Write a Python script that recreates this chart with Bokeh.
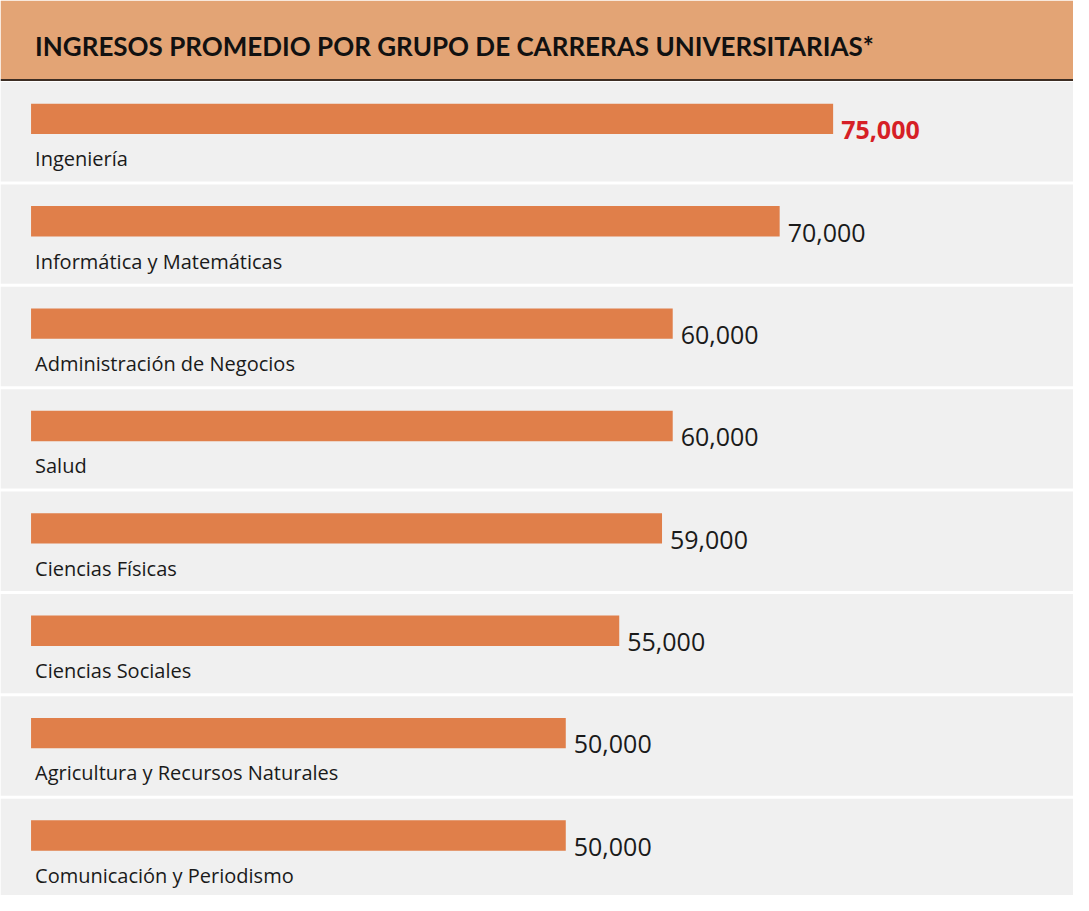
from bokeh.plotting import figure
from bokeh.models import Range1d, ColumnDataSource
from bokeh.core.properties import value
from bokeh.embed import file_html
from bokeh.resources import INLINE

# ---------------- data ----------------
title_text = "INGRESOS PROMEDIO POR GRUPO DE CARRERAS UNIVERSITARIAS*"
categories = [
    "Ingeniería",
    "Informática y Matemáticas",
    "Administración de Negocios",
    "Salud",
    "Ciencias Físicas",
    "Ciencias Sociales",
    "Agricultura y Recursos Naturales",
    "Comunicación y Periodismo",
]
incomes = [75000, 70000, 60000, 60000, 59000, 55000, 50000, 50000]
value_labels = [f"{v:,}" for v in incomes]

# ---------------- layout ----------------
W, H = 1073, 895
REF_W, REF_H = 1089, 911
PX_PER_UNIT = 10.854 / 1000.0   # reference pixels per unit of income
X0_REF = 31                     # reference pixel of zero income
x_start = -X0_REF / PX_PER_UNIT
x_end = (REF_W - X0_REF) / PX_PER_UNIT

HEADER_BOTTOM = 80
ROW0 = 82
PITCH = 104.2
GAP = 3

n = len(categories)
row_tops = [ROW0 + k * PITCH for k in range(n)]

HEADER_COLOR = "#E3A475"
BAR_COLOR = "#E07F4A"
ROW_BG = "#F0F0F0"
RED = "#D61F26"

p = figure(width=W, height=H, output_backend="svg", toolbar_location=None,
           x_range=Range1d(x_start, x_end), y_range=Range1d(REF_H, 0),
           min_border=0, min_border_left=0, min_border_right=0,
           min_border_top=0, min_border_bottom=0)
p.axis.visible = False
p.grid.visible = False
p.outline_line_color = None
p.background_fill_color = "white"
p.border_fill_color = "white"

# header band
p.quad(left=[x_start], right=[x_end], top=[0], bottom=[HEADER_BOTTOM],
       fill_color=HEADER_COLOR, line_color=None)
p.quad(left=[x_start], right=[x_end], top=[HEADER_BOTTOM], bottom=[HEADER_BOTTOM + 2],
       fill_color="#3D2E24", line_color=None)
p.text(x=[0], y=[46], text=[title_text], x_offset=4,
       text_font=value("Lato"), text_font_style="bold", text_font_size="26px",
       text_color="#111111", text_baseline="alphabetic", text_align="left")

# row backgrounds
src_rows = ColumnDataSource(dict(
    left=[x_start] * n, right=[x_end] * n,
    top=[t + 1 for t in row_tops],
    bottom=[t + PITCH - GAP + 1 for t in row_tops],
))
p.quad(left="left", right="right", top="top", bottom="bottom", source=src_rows,
       fill_color=ROW_BG, line_color=None)

# bars
src = ColumnDataSource(dict(
    cat=categories, val=incomes, lab=value_labels,
    yc=[t + 23 + 15.5 for t in row_tops],
    yl=[t + 79 for t in row_tops],
    zero=[0] * n,
))
p.hbar(y="yc", left=0, right="val", height=31, source=src,
       fill_color=BAR_COLOR, line_color=None)

# category labels
p.text(x="zero", y="yl", text="cat", source=src, x_offset=4,
       text_font=value("Open Sans"), text_font_size="20px", text_color="#1a1a1a",
       text_baseline="alphabetic", text_align="left")

# value labels
hi = max(range(n), key=lambda i: incomes[i])
others = [i for i in range(n) if i != hi]
src_hi = ColumnDataSource(dict(x=[incomes[hi]], y=[row_tops[hi] + 50], t=[value_labels[hi]]))
src_lo = ColumnDataSource(dict(x=[incomes[i] for i in others],
                               y=[row_tops[i] + 50 for i in others],
                               t=[value_labels[i] for i in others]))
p.text(x="x", y="y", text="t", source=src_hi, x_offset=8,
       text_font=value("Open Sans"), text_font_style="bold", text_font_size="25px",
       text_color=RED, text_baseline="alphabetic", text_align="left")
p.text(x="x", y="y", text="t", source=src_lo, x_offset=8,
       text_font=value("Open Sans"), text_font_size="25px",
       text_color="#1a1a1a", text_baseline="alphabetic", text_align="left")

open("out.html", "w").write(file_html(p, INLINE))
